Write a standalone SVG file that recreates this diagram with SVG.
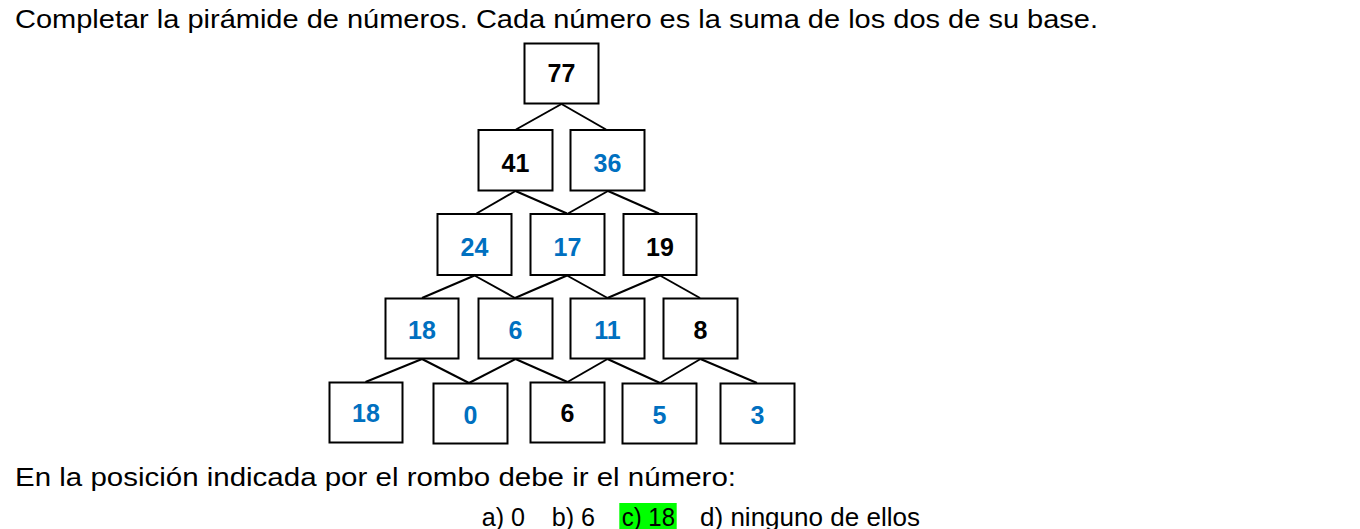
<svg xmlns="http://www.w3.org/2000/svg" width="1360" height="529" viewBox="0 0 1360 529">
<style>
.bg{fill:#ffffff}
.box{fill:#ffffff;stroke:#000000;stroke-width:2}
.ln{stroke:#000000;stroke-width:2;fill:none}
.num{font-family:"Liberation Sans",Arial,sans-serif;font-weight:bold;font-size:25px;text-anchor:middle}
.k{fill:#000000}
.b{fill:#0070C0}
.txt{font-family:"Liberation Sans",Arial,sans-serif;font-size:25px;fill:#000000}
</style>
<rect class="bg" x="0" y="0" width="1360" height="529"/>
<text class="txt" x="15" y="28" textLength="1083" lengthAdjust="spacingAndGlyphs">Completar la pirámide de números. Cada número es la suma de los dos de su base.</text>
<g id="connectors">
<line class="ln" x1="561.5" y1="104" x2="516" y2="129.5"/>
<line class="ln" x1="561.5" y1="104" x2="606" y2="129.5"/>
<line class="ln" x1="515.5" y1="191" x2="476.5" y2="213.5"/>
<line class="ln" x1="515.5" y1="191" x2="567" y2="213.5"/>
<line class="ln" x1="608" y1="191" x2="568" y2="213.5"/>
<line class="ln" x1="608" y1="191" x2="659" y2="213.5"/>
<line class="ln" x1="474.5" y1="275.5" x2="422" y2="298"/>
<line class="ln" x1="474.5" y1="275.5" x2="515" y2="298"/>
<line class="ln" x1="567" y1="275.5" x2="515" y2="298"/>
<line class="ln" x1="567" y1="275.5" x2="607.5" y2="298"/>
<line class="ln" x1="660" y1="275.5" x2="607.5" y2="298"/>
<line class="ln" x1="660" y1="275.5" x2="700" y2="298"/>
<line class="ln" x1="422" y1="359" x2="365.5" y2="382"/>
<line class="ln" x1="422" y1="359" x2="469" y2="383"/>
<line class="ln" x1="515.5" y1="359" x2="469" y2="383"/>
<line class="ln" x1="515.5" y1="359" x2="567.5" y2="382"/>
<line class="ln" x1="607.5" y1="359" x2="567.5" y2="382"/>
<line class="ln" x1="607.5" y1="359" x2="660" y2="383"/>
<line class="ln" x1="700.5" y1="359" x2="660" y2="383"/>
<line class="ln" x1="700.5" y1="359" x2="757" y2="383"/>
</g>
<g id="n77"><rect class="box" x="524.5" y="43.5" width="74" height="60"/><text class="num k" x="561.5" y="82.3">77</text></g>
<g id="n41"><rect class="box" x="478.5" y="130" width="74" height="60.5"/><text class="num k" x="515.5" y="171.7">41</text></g>
<g id="n36"><rect class="box" x="570.5" y="130" width="74" height="60.5"/><text class="num b" x="607.5" y="171.7">36</text></g>
<g id="n24"><rect class="box" x="437.5" y="214" width="74" height="61"/><text class="num b" x="474.5" y="255.7">24</text></g>
<g id="n17"><rect class="box" x="530.5" y="214" width="74" height="61"/><text class="num b" x="567.5" y="255.7">17</text></g>
<g id="n19"><rect class="box" x="623.5" y="214" width="73" height="61"/><text class="num k" x="660" y="255.7">19</text></g>
<g id="n18a"><rect class="box" x="385.5" y="298.5" width="73" height="60"/><text class="num b" x="422" y="339">18</text></g>
<g id="n6a"><rect class="box" x="478.5" y="298.5" width="74" height="60"/><text class="num b" x="515.5" y="339">6</text></g>
<g id="n11"><rect class="box" x="570.5" y="298.5" width="74" height="60"/><text class="num b" x="607.5" y="339">11</text></g>
<g id="n8"><rect class="box" x="663.5" y="298.5" width="74" height="60"/><text class="num k" x="700.5" y="339">8</text></g>
<g id="n18b"><rect class="box" x="329.5" y="382.5" width="73" height="60"/><text class="num b" x="366" y="421.7">18</text></g>
<g id="n0"><rect class="box" x="433.5" y="383.5" width="74" height="60"/><text class="num b" x="470.5" y="424">0</text></g>
<g id="n6b"><rect class="box" x="530.5" y="382.5" width="74" height="60"/><text class="num k" x="567.5" y="421.7">6</text></g>
<g id="n5"><rect class="box" x="622.5" y="383.5" width="74" height="60"/><text class="num b" x="659.5" y="424">5</text></g>
<g id="n3"><rect class="box" x="720.5" y="383.5" width="74" height="60"/><text class="num b" x="757.5" y="424">3</text></g>
<text class="txt" x="15" y="486" textLength="721" lengthAdjust="spacingAndGlyphs">En la posición indicada por el rombo debe ir el número:</text>
<rect x="619.3" y="503" width="57.4" height="26" fill="#00FF00"/>
<text class="txt" x="481.7" y="526" textLength="43.3" lengthAdjust="spacingAndGlyphs">a) 0</text>
<text class="txt" x="551.7" y="526" textLength="43.3" lengthAdjust="spacingAndGlyphs">b) 6</text>
<text class="txt" x="621.7" y="526" textLength="53.3" lengthAdjust="spacingAndGlyphs">c) 18</text>
<text class="txt" x="700" y="526" textLength="220" lengthAdjust="spacingAndGlyphs">d) ninguno de ellos</text>
</svg>
